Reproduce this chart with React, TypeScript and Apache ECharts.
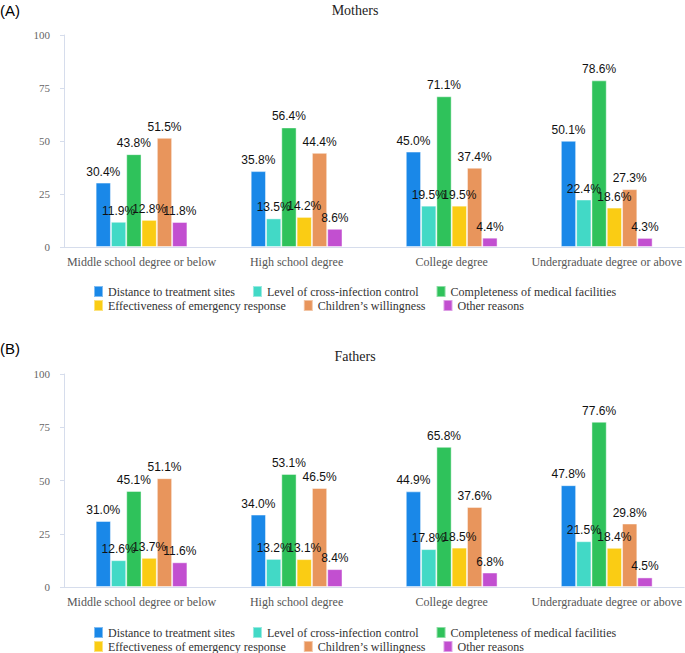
import React, { useEffect, useRef } from "react";
import * as echarts from "echarts";

const categories = [
  "Middle school degree or below",
  "High school degree",
  "College degree",
  "Undergraduate degree or above",
];
const seriesNames = [
  "Distance to treatment sites",
  "Level of cross-infection control",
  "Completeness of medical facilities",
  "Effectiveness of emergency response",
  "Children\u2019s willingness",
  "Other reasons",
];
const colors = ["#1a88e8", "#42d9c6", "#2fc25b", "#facc14", "#e8955c", "#c24fd0"];

// Mothers: one array per reason, values across education categories
const mothersDistance = [30.4, 35.8, 45.0, 50.1];
const mothersInfection = [11.9, 13.5, 19.5, 22.4];
const mothersFacilities = [43.8, 56.4, 71.1, 78.6];
const mothersEmergency = [12.8, 14.2, 19.5, 18.6];
const mothersWillingness = [51.5, 44.4, 37.4, 27.3];
const mothersOther = [11.8, 8.6, 4.4, 4.3];

// Fathers
const fathersDistance = [31.0, 34.0, 44.9, 47.8];
const fathersInfection = [12.6, 13.2, 17.8, 21.5];
const fathersFacilities = [45.1, 53.1, 65.8, 77.6];
const fathersEmergency = [13.7, 13.1, 18.5, 18.4];
const fathersWillingness = [51.1, 46.5, 37.6, 29.8];
const fathersOther = [11.6, 8.4, 6.8, 4.5];

const yTicks = [0, 25, 50, 75, 100];

const mothers = [mothersDistance, mothersInfection, mothersFacilities, mothersEmergency, mothersWillingness, mothersOther];
const fathers = [fathersDistance, fathersInfection, fathersFacilities, fathersEmergency, fathersWillingness, fathersOther];

const SERIF = "'Liberation Serif', 'Times New Roman', serif";
const SANS = "'Liberation Sans', Arial, sans-serif";
const AXIS_COLOR = "#d6ddec";

export default function App() {
  const ref = useRef<HTMLDivElement>(null);

  useEffect(() => {
    if (!ref.current) return;
    const chart = echarts.init(ref.current, undefined, { renderer: "svg" });

    const grids = [
      { left: 64, right: 0, top: 35, height: 212 },
      { left: 64, right: 0, top: 374, height: 213 },
    ];

    const xAxes = grids.map((_, i) => ({
      type: "category" as const,
      gridIndex: i,
      data: categories,
      axisTick: { show: false },
      axisLine: { show: true, lineStyle: { color: AXIS_COLOR, width: 1 } },
      axisLabel: { fontFamily: SERIF, fontSize: 12, color: "#555", margin: 9, interval: 0 },
    }));

    const yAxes = grids.map((_, i) => ({
      type: "value" as const,
      gridIndex: i,
      min: yTicks[0],
      max: yTicks[yTicks.length - 1],
      interval: 25,
      axisLine: { show: true, lineStyle: { color: AXIS_COLOR, width: 1 } },
      axisTick: { show: true, length: 4, lineStyle: { color: AXIS_COLOR } },
      axisLabel: { fontFamily: SERIF, fontSize: 11, color: "#666", margin: 14 },
      splitLine: { show: false },
    }));

    const makeSeries = (data: number[][], gi: number) =>
      data.map((vals, k) => ({
        name: seriesNames[k],
        type: "bar" as const,
        xAxisIndex: gi,
        yAxisIndex: gi,
        data: vals,
        barWidth: 15.3,
        barGap: "0%",
        itemStyle: { color: colors[k], borderColor: "rgba(255,255,255,0.45)", borderWidth: 1 },
        label: {
          show: true,
          position: "top" as const,
          distance: 5,
          formatter: (p: any) => Number(p.value).toFixed(1) + "%",
          fontFamily: SANS,
          fontSize: 12,
          color: "#111",
        },
      }));

    const legendBase = {
      orient: "horizontal" as const,
      icon: "rect",
      itemWidth: 9,
      itemHeight: 11,
      itemGap: 17,
      left: 93,
      padding: 0,
      textStyle: { fontFamily: SERIF, fontSize: 12, color: "#333" },
    };

    const legends = [
      { ...legendBase, top: 285, data: seriesNames.slice(0, 3) },
      { ...legendBase, top: 299, data: seriesNames.slice(3, 6) },
      { ...legendBase, top: 626, data: seriesNames.slice(0, 3) },
      { ...legendBase, top: 640, data: seriesNames.slice(3, 6) },
    ];

    chart.setOption({
      animation: false,
      color: colors,
      grid: grids,
      xAxis: xAxes,
      yAxis: yAxes,
      legend: legends,
      series: [...makeSeries(mothers, 0), ...makeSeries(fathers, 1)],
      graphic: [
        { type: "text", left: 0, top: 3, style: { text: "(A)", font: `15px ${SANS}`, fill: "#000" } },
        { type: "text", left: 0, top: 341, style: { text: "(B)", font: `15px ${SANS}`, fill: "#000" } },
        { type: "text", x: 355, y: 10, style: { text: "Mothers", font: `14px ${SERIF}`, fill: "#222", align: "center", verticalAlign: "middle" } },
        { type: "text", x: 355, y: 356, style: { text: "Fathers", font: `14px ${SERIF}`, fill: "#222", align: "center", verticalAlign: "middle" } },
      ],
    });

    return () => chart.dispose();
  }, []);

  return (
    <div
      ref={ref}
      style={{ position: "absolute", left: 0, top: 0, width: 685, height: 653, background: "#fff" }}
    />
  );
}
